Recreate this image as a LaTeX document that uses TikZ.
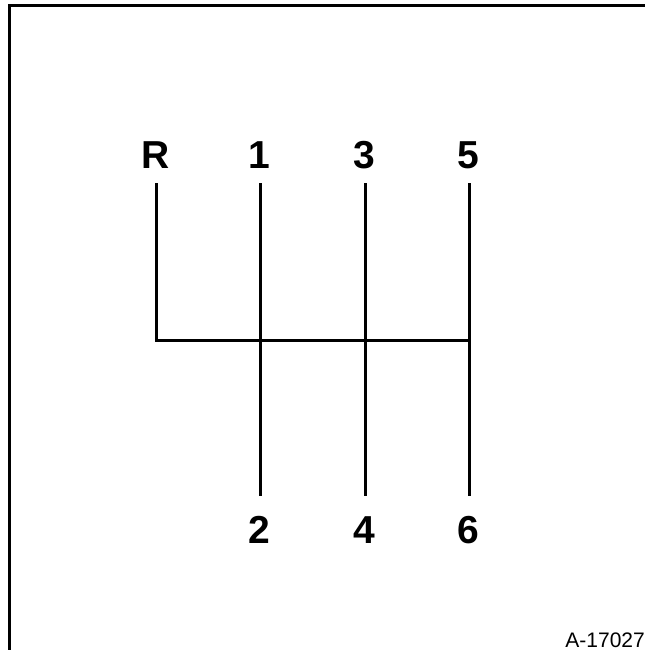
\documentclass[tikz,border=0pt]{standalone}
\usepackage{fontspec}
\setmainfont{Liberation Sans}
\begin{document}
\begin{tikzpicture}[
  x=1pt, y=1pt,
  gear/.style={font=\fontsize{39}{39}\selectfont\bfseries, anchor=base, inner sep=0pt},
  gate/.style={line width=3pt},
  frame/.style={line width=3pt}
]
\useasboundingbox (0,0) rectangle (645,-650);
% border (top and left only)
\draw[frame] (9.5,-650) |- (645,-5.5);
% gear labels
\node[gear] (lR) at (156,-168) {R};
\node[gear] (l1) at (259,-168) {1};
\node[gear] (l3) at (364,-168) {3};
\node[gear] (l5) at (468,-168) {5};
\node[gear] (l2) at (259,-543) {2};
\node[gear] (l4) at (364,-543) {4};
\node[gear] (l6) at (468,-543) {6};
% line ends
\coordinate (tR) at (156.5,-183);
\coordinate (t1) at (260.5,-183);
\coordinate (t3) at (365,-183);
\coordinate (t5) at (469,-183);
\coordinate (b2) at (260.5,-496);
\coordinate (b4) at (365,-496);
\coordinate (b6) at (469,-496);
\coordinate (jR) at (156.5,-340);
\coordinate (j5) at (469,-340);
% shift pattern
\draw[gate] (tR) -- (jR) -- (j5);
\draw[gate] (t1) -- (b2);
\draw[gate] (t3) -- (b4);
\draw[gate] (t5) -- (b6);
\node[font=\fontsize{21}{21}\selectfont, anchor=base east, inner sep=0pt] (code) at (645,-647) {A-17027};
\end{tikzpicture}
\end{document}
